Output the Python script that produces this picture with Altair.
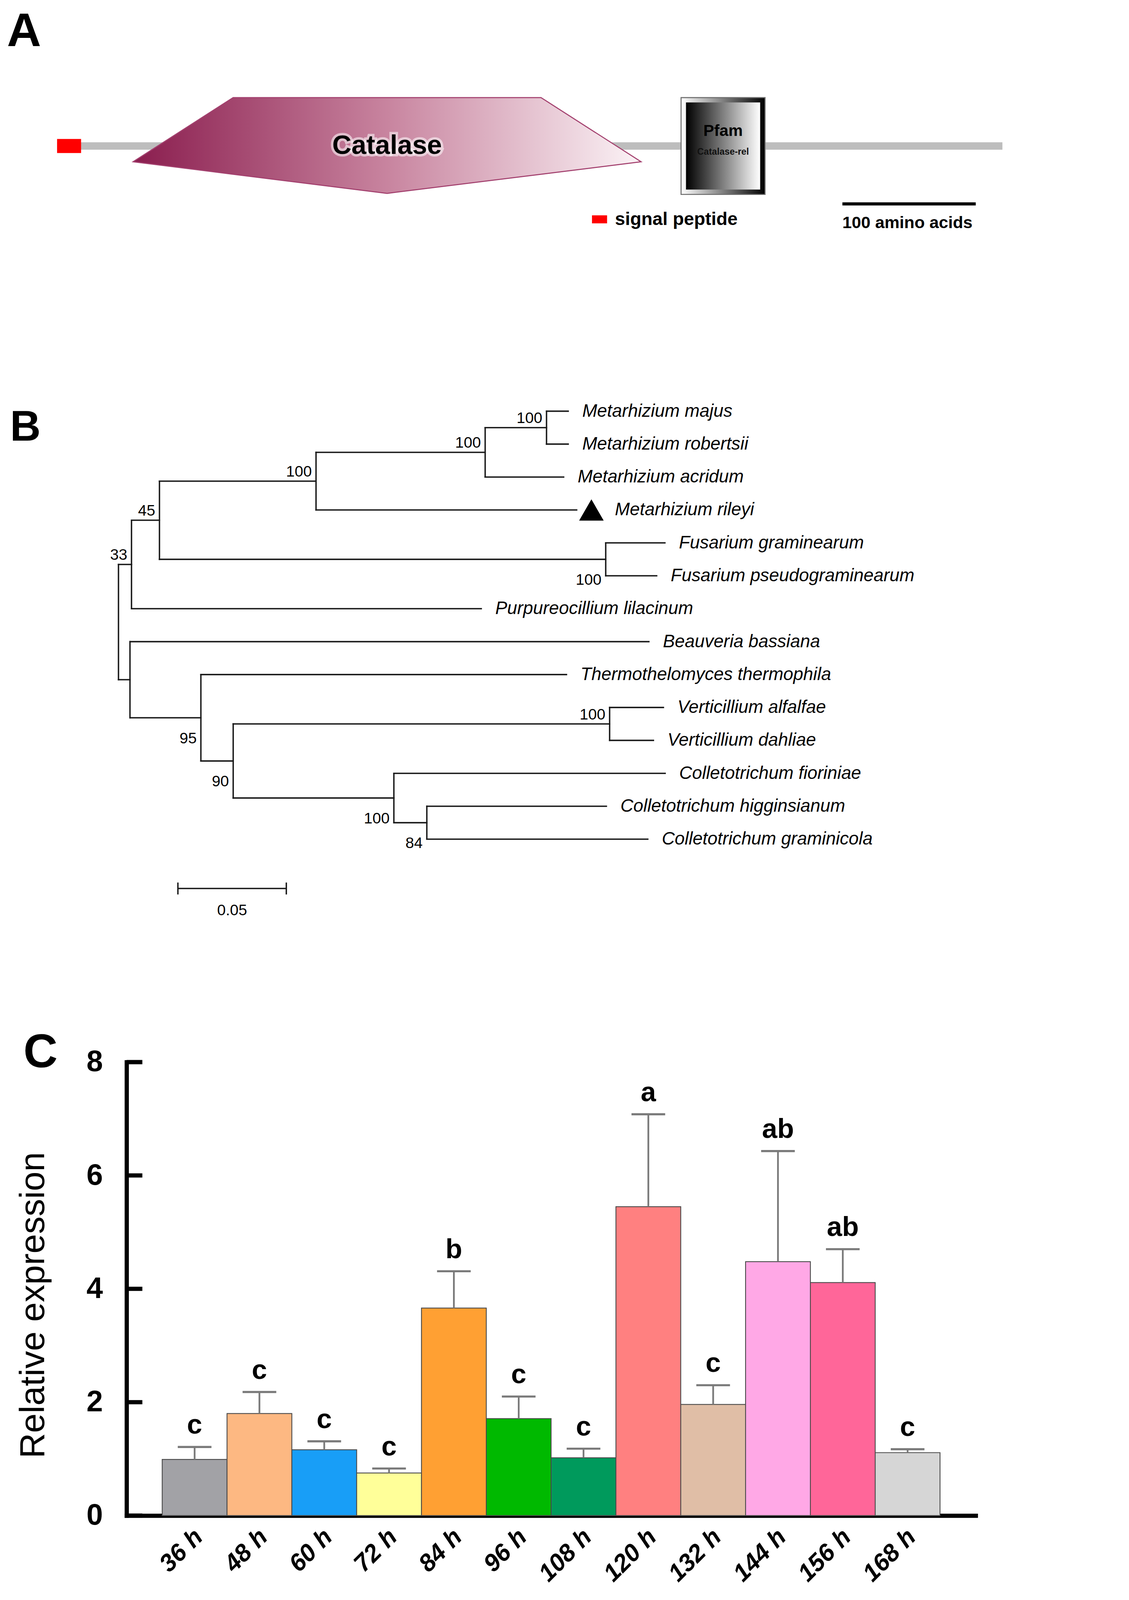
import altair as alt
import pandas as pd

# ============================ DATA ============================
# ---- Panel A: protein architecture (amino-acid coordinates) ----
protein_length = 709
signal_peptide = [0, 18]
domain_labels = ["Catalase", "Catalase-rel"]
domain_start = [57, 468]
domain_end = [438, 531]
scalebar_start_aa = 589
scalebar_len_aa = 100
legend_label = "signal peptide"

# ---- Panel B: phylogenetic tree ----
tip_names = [
    "Metarhizium majus", "Metarhizium robertsii", "Metarhizium acridum",
    "Metarhizium rileyi", "Fusarium graminearum", "Fusarium pseudograminearum",
    "Purpureocillium lilacinum", "Beauveria bassiana",
    "Thermothelomyces thermophila", "Verticillium alfalfae",
    "Verticillium dahliae", "Colletotrichum fioriniae",
    "Colletotrichum higginsianum", "Colletotrichum graminicola",
]
edge_parent = ["root", "root", "n33", "n33", "n45", "n45", "nMet4", "nMet4",
               "nMet3", "nMet3", "nMR", "nMR", "nFus", "nFus", "nLow", "nLow",
               "n95", "n95", "n90", "n90", "nVert", "nVert", "nColl", "nColl",
               "n84", "n84"]
edge_child = ["n33", "nLow", "n45", "Purpureocillium lilacinum", "nMet4", "nFus",
              "nMet3", "Metarhizium rileyi", "nMR", "Metarhizium acridum",
              "Metarhizium majus", "Metarhizium robertsii",
              "Fusarium graminearum", "Fusarium pseudograminearum",
              "Beauveria bassiana", "n95", "Thermothelomyces thermophila", "n90",
              "nVert", "nColl", "Verticillium alfalfae", "Verticillium dahliae",
              "Colletotrichum fioriniae", "n84",
              "Colletotrichum higginsianum", "Colletotrichum graminicola"]
edge_length = [0.0060, 0.0053, 0.0129, 0.1613, 0.0722, 0.2058, 0.0780, 0.1202,
               0.0283, 0.0362, 0.0100, 0.0100, 0.0273, 0.0235, 0.2393, 0.0327,
               0.1686, 0.0149, 0.1736, 0.0741, 0.0248, 0.0202, 0.1251, 0.0152,
               0.0828, 0.1019]
bootstrap_node = ["nMR", "nMet3", "nMet4", "n45", "n33", "nVert",
                  "nFus", "n95", "n90", "nColl", "n84"]
bootstrap_value = ["100", "100", "100", "45", "33", "100",
                   "100", "95", "90", "100", "84"]
bootstrap_side = ["above"] * 6 + ["below"] * 5
marked_tip = "Metarhizium rileyi"
tree_scale_len = 0.05
tree_scale_start = 0.0274
tree_scale_label = "0.05"

# ---- Panel C: relative expression ----
times = ["36 h", "48 h", "60 h", "72 h", "84 h", "96 h",
         "108 h", "120 h", "132 h", "144 h", "156 h", "168 h"]
expr_mean = [0.99, 1.80, 1.16, 0.75, 3.66, 1.71, 1.02, 5.45, 1.96, 4.48, 4.11, 1.11]
expr_err = [0.22, 0.38, 0.15, 0.08, 0.65, 0.39, 0.16, 1.63, 0.34, 1.95, 0.59, 0.06]
sig_letters = ["c", "c", "c", "c", "b", "c", "c", "a", "c", "ab", "ab", "c"]
bar_colors = ["#a2a2a6", "#fdb882", "#189ef7", "#ffff99", "#ffa033", "#00b900",
              "#009a5c", "#ff8080", "#e0bea6", "#ffa8e6", "#ff6699", "#d6d6d6"]
y_tick_values = [0, 2, 4, 6, 8]
panel_letters = ["A", "B", "C"]

# ============================ LAYOUT / STYLE ============================
# All geometry below is measured in reference-image pixels and converted to
# CSS pixels with S (the page is photographed at a device scale of about S).
S = 1.113


def px(v):
    return v / S


FONT = "Liberation Sans"
X0 = 360            # left edge of each panel's plot area (image px)
PLOT_W = 2420
TOP_A = 8 * S       # top of panel A plot area (image px)
H_A = 1000
C_TOP = 3025        # top of panel C plot area (value 8)
H_C = 1292          # value 0 at image y 4317
LETTER_SIZE = 135
C_BASE = 3040       # baseline of letter C
C_OVERHANG = 0.8 * LETTER_SIZE - (C_BASE - C_TOP)
H_B = C_TOP - TOP_A - H_A - C_OVERHANG
TOP_B = TOP_A + H_A

# panel A geometry
AA0_IMG, PX_PER_AA = 162, 3.80
LINE_Y_IMG, UNIT_PX = 416, 138.0
SP_HALF = 20 / UNIT_PX
VERTEX_Y, APEX_Y = -45 / UNIT_PX, -135 / UNIT_PX
SHOULDER_FRAC = 0.197
SCALEBAR_Y = (LINE_Y_IMG - 581) / UNIT_PX
SCALEBAR_TXT_Y = (LINE_Y_IMG - 636) / UNIT_PX
PF_INSET_X, PF_INSET_Y = 3.7, 14 / UNIT_PX

# panel B geometry
ROOT_X_IMG, PX_PER_UNIT = 337, 6180.0
ROW0_IMG, ROW_PX = 1171, 93.8
SB_ROW = (2531 - ROW0_IMG) / ROW_PX
SB_LABEL_ROW = (2594 - ROW0_IMG) / ROW_PX
SB_TICK = 17 / ROW_PX


def letter(ch, x_img, y_rel_img, size):
    return alt.Chart(pd.DataFrame({"t": [ch]})).mark_text(
        font=FONT, fontSize=px(size), fontWeight="bold", color="black",
        align="left", baseline="alphabetic").encode(
        x=alt.value(px(x_img - X0)), y=alt.value(px(y_rel_img)), text="t:N")


# ============================ PANEL A ============================
xa_dom = [(X0 - AA0_IMG) / PX_PER_AA, (X0 - AA0_IMG + PLOT_W) / PX_PER_AA]
ya_top = (LINE_Y_IMG - TOP_A) / UNIT_PX
ya_dom = [ya_top - H_A / UNIT_PX, ya_top]
sxA = alt.Scale(domain=xa_dom, nice=False, zero=False)
syA = alt.Scale(domain=ya_dom, nice=False, zero=False)


def XA(f):
    return alt.X(f, type="quantitative", scale=sxA, axis=None)


def YA(f):
    return alt.Y(f, type="quantitative", scale=syA, axis=None)


line_df = pd.DataFrame({"x": [0], "x2": [protein_length], "y": [0.0]})
sp_df = pd.DataFrame({"x": [signal_peptide[0]], "x2": [signal_peptide[1]],
                      "y": [-SP_HALF], "y2": [SP_HALF], "feature": [legend_label]})

s, e = domain_start[0], domain_end[0]
L = e - s
f = SHOULDER_FRAC
mid_bot = VERTEX_Y + (APEX_Y - VERTEX_Y) * (2 * f)
pent_df = pd.DataFrame({
    "x": [s, s + f * L, s + L / 2, e - f * L, e],
    "top": [VERTEX_Y, 1.0, 1.0, 1.0, VERTEX_Y],
    "bot": [VERTEX_Y, mid_bot, APEX_Y, mid_bot, VERTEX_Y],
})
pf_df = pd.DataFrame({"x": [domain_start[1]], "x2": [domain_end[1]],
                      "y": [-1.0], "y2": [1.0]})
pf_in_df = pd.DataFrame({"x": [domain_start[1] + PF_INSET_X],
                         "x2": [domain_end[1] - PF_INSET_X],
                         "y": [-1.0 + PF_INSET_Y], "y2": [1.0 - PF_INSET_Y]})
cat_txt = pd.DataFrame({"x": [(s + e) / 2], "y": [0.0], "t": [domain_labels[0]]})
pf_txt = pd.DataFrame({"x": [(domain_start[1] + domain_end[1]) / 2], "y": [0.0],
                       "t": [domain_labels[1]]})
sb_df = pd.DataFrame({"x": [scalebar_start_aa], "x2": [scalebar_start_aa + scalebar_len_aa],
                      "y": [SCALEBAR_Y], "yt": [SCALEBAR_TXT_Y],
                      "t": [f"{scalebar_len_aa} amino acids"]})

grad_cat = alt.LinearGradient(gradient="linear", x1=0, x2=1, y1=0, y2=0, stops=[
    alt.GradientStop(color="#8a1d4e", offset=0),
    alt.GradientStop(color="#c8849f", offset=0.5),
    alt.GradientStop(color="#fbf3f6", offset=1)])
grad_pf_out = alt.LinearGradient(gradient="linear", x1=0, x2=1, y1=0, y2=0, stops=[
    alt.GradientStop(color="#ffffff", offset=0),
    alt.GradientStop(color="#000000", offset=1)])
grad_pf_in = alt.LinearGradient(gradient="linear", x1=0, x2=1, y1=0, y2=0, stops=[
    alt.GradientStop(color="#000000", offset=0),
    alt.GradientStop(color="#ffffff", offset=1)])

a_line = alt.Chart(line_df).mark_rule(color="#bdbdbd", strokeWidth=px(21)).encode(
    x=XA("x"), x2="x2", y=YA("y"))
a_sp = alt.Chart(sp_df).mark_rect().encode(
    x=XA("x"), x2="x2", y=YA("y"), y2="y2",
    color=alt.Color("feature:N", scale=alt.Scale(domain=[legend_label], range=["#ff0000"]),
                    legend=alt.Legend(orient="none", legendX=px(1682 - X0),
                                      legendY=px(599 - TOP_A), title=None,
                                      symbolType="M-1,-0.53H1V0.53H-1Z",
                                      symbolSize=px(43) ** 2, symbolStrokeWidth=0,
                                      labelFontSize=px(52), labelFont=FONT,
                                      labelFontWeight="bold", labelColor="black",
                                      labelOffset=px(18), labelLimit=0, padding=0)))
a_pent = alt.Chart(pent_df).mark_area(fill=grad_cat, stroke="#a3406e", strokeWidth=px(3),
                                      interpolate="linear").encode(
    x=XA("x"), y=YA("top"), y2="bot")
a_pf = alt.Chart(pf_df).mark_rect(fill=grad_pf_out, stroke="#6e6e6e",
                                  strokeWidth=px(3)).encode(
    x=XA("x"), x2="x2", y=YA("y"), y2="y2")
a_pf_in = alt.Chart(pf_in_df).mark_rect(fill=grad_pf_in).encode(
    x=XA("x"), x2="x2", y=YA("y"), y2="y2")
a_cat_glow = alt.Chart(cat_txt).mark_text(font=FONT, fontSize=px(76), fontWeight="bold",
                                          stroke="white", strokeWidth=px(14),
                                          strokeOpacity=0.55, color="white").encode(
    x=XA("x"), y=YA("y"), text="t:N")
a_cat_t = alt.Chart(cat_txt).mark_text(font=FONT, fontSize=px(76), fontWeight="bold",
                                       color="black").encode(
    x=XA("x"), y=YA("y"), text="t:N")
a_pf_t1 = alt.Chart(pf_txt).mark_text(font=FONT, fontSize=px(46), fontWeight="bold",
                                      color="black", dy=px(-42), text="Pfam").encode(
    x=XA("x"), y=YA("y"))
a_pf_t2 = alt.Chart(pf_txt).mark_text(font=FONT, fontSize=px(26), fontWeight="bold",
                                      color="#111111", dy=px(17)).encode(
    x=XA("x"), y=YA("y"), text="t:N")
a_sb = alt.Chart(sb_df).mark_rule(color="black", strokeWidth=px(9)).encode(
    x=XA("x"), x2="x2", y=YA("y"))
a_sb_t = alt.Chart(sb_df).mark_text(font=FONT, fontSize=px(48), fontWeight="bold",
                                    color="black", align="left").encode(
    x=XA("x"), y=YA("yt"), text="t:N")

panelA = alt.layer(a_line, a_sp, a_pent, a_pf, a_pf_in, a_cat_glow, a_cat_t, a_pf_t1,
                   a_pf_t2, a_sb, a_sb_t,
                   letter(panel_letters[0], 19, 131 - TOP_A, LETTER_SIZE)).properties(
    width=px(PLOT_W), height=px(H_A))

# ============================ PANEL B ============================
children = {}
for p, c in zip(edge_parent, edge_child):
    children.setdefault(p, []).append(c)
depth = {"root": 0.0}
for p, c, l in zip(edge_parent, edge_child, edge_length):
    depth[c] = depth[p] + l
row = {n: float(i) for i, n in enumerate(tip_names)}


def get_row(n):
    if n not in row:
        row[n] = sum(get_row(c) for c in children[n]) / len(children[n])
    return row[n]


get_row("root")

h_df = pd.DataFrame({"x": [depth[p] for p in edge_parent],
                     "x2": [depth[c] for c in edge_child],
                     "y": [row[c] for c in edge_child]})
v_df = pd.DataFrame({"x": [depth[n] for n in children],
                     "y": [min(row[c] for c in children[n]) for n in children],
                     "y2": [max(row[c] for c in children[n]) for n in children]})
tips_df = pd.DataFrame({"name": tip_names, "x": [depth[n] for n in tip_names],
                        "y": [row[n] for n in tip_names]})
boot_df = pd.DataFrame({"v": bootstrap_value, "side": bootstrap_side,
                        "x": [depth[n] for n in bootstrap_node],
                        "y": [row[n] for n in bootstrap_node]})
sbar_df = pd.DataFrame({"x": [tree_scale_start], "x2": [tree_scale_start + tree_scale_len],
                        "y": [SB_ROW]})
sbar_ends = pd.DataFrame({"x": [tree_scale_start, tree_scale_start + tree_scale_len],
                          "y": [SB_ROW - SB_TICK] * 2, "y2": [SB_ROW + SB_TICK] * 2})
sbar_lab = pd.DataFrame({"x": [tree_scale_start + tree_scale_len / 2], "y": [SB_LABEL_ROW],
                         "t": [tree_scale_label]})

xb_dom = [(X0 - ROOT_X_IMG) / PX_PER_UNIT, (X0 - ROOT_X_IMG + PLOT_W) / PX_PER_UNIT]
yb_top = (TOP_B - ROW0_IMG) / ROW_PX
yb_dom = [yb_top, yb_top + H_B / ROW_PX]
sxB = alt.Scale(domain=xb_dom, nice=False, zero=False)
syB = alt.Scale(domain=yb_dom, nice=False, zero=False, reverse=True)


def XB(f):
    return alt.X(f, type="quantitative", scale=sxB, axis=None)


def YB(f):
    return alt.Y(f, type="quantitative", scale=syB, axis=None)


TREE_COL = "#1a1a1a"
b_h = alt.Chart(h_df).mark_rule(color=TREE_COL, strokeWidth=px(4), strokeCap="square").encode(
    x=XB("x"), x2="x2", y=YB("y"))
b_v = alt.Chart(v_df).mark_rule(color=TREE_COL, strokeWidth=px(4), strokeCap="square").encode(
    x=XB("x"), y=YB("y"), y2="y2")
b_tips = alt.Chart(tips_df).transform_filter(
    alt.datum.name != marked_tip).mark_text(
    font=FONT, fontSize=px(51), fontStyle="italic", align="left", dx=px(40),
    color="black").encode(x=XB("x"), y=YB("y"), text="name:N")
b_mark_t = alt.Chart(tips_df).transform_filter(
    alt.datum.name == marked_tip).mark_text(
    font=FONT, fontSize=px(51), fontStyle="italic", align="left", dx=px(109),
    color="black").encode(x=XB("x"), y=YB("y"), text="name:N")
b_tri = alt.Chart(tips_df).transform_filter(
    alt.datum.name == marked_tip).mark_point(
    shape="triangle-up", filled=True, size=px(70) ** 2, color="black", opacity=1,
    xOffset=px(42)).encode(x=XB("x"), y=YB("y"))
b_boot_up = alt.Chart(boot_df).transform_filter(alt.datum.side == "above").mark_text(
    font=FONT, fontSize=px(44), align="right", baseline="bottom", dx=px(-12), dy=px(-4),
    color="black").encode(x=XB("x"), y=YB("y"), text="v:N")
b_boot_dn = alt.Chart(boot_df).transform_filter(alt.datum.side == "below").mark_text(
    font=FONT, fontSize=px(44), align="right", baseline="top", dx=px(-12), dy=px(38),
    color="black").encode(x=XB("x"), y=YB("y"), text="v:N")
b_sb = alt.Chart(sbar_df).mark_rule(color=TREE_COL, strokeWidth=px(4)).encode(
    x=XB("x"), x2="x2", y=YB("y"))
b_sb_e = alt.Chart(sbar_ends).mark_rule(color=TREE_COL, strokeWidth=px(4)).encode(
    x=XB("x"), y=YB("y"), y2="y2")
b_sb_t = alt.Chart(sbar_lab).mark_text(font=FONT, fontSize=px(44), color="black").encode(
    x=XB("x"), y=YB("y"), text="t:N")

panelB = alt.layer(b_h, b_v, b_tips, b_mark_t, b_tri, b_boot_up, b_boot_dn,
                   b_sb, b_sb_e, b_sb_t,
                   letter(panel_letters[1], 28, 1255 - TOP_B, 121)).properties(
    width=px(PLOT_W), height=px(H_B))

# ============================ PANEL C ============================
c_df = pd.DataFrame({"time": times, "mean": expr_mean,
                     "upper": [m + s_ for m, s_ in zip(expr_mean, expr_err)],
                     "letter": sig_letters})
tick_df = pd.DataFrame({"tick": y_tick_values})

xC = alt.X("time:N", sort=times,
           scale=alt.Scale(domain=times, paddingInner=0, paddingOuter=0.55),
           axis=alt.Axis(title=None, labelAngle=-45, labelAlign="right",
                         labelBaseline="middle", labelFont=FONT, labelFontSize=px(70),
                         labelFontWeight="bold", labelFontStyle="italic",
                         labelColor="black", labelPadding=px(50), labelOffset=px(12),
                         ticks=False, tickSize=0, domainWidth=px(12),
                         domainColor="black", domainCap="square"))
yScaleC = alt.Scale(domain=[0, 8], nice=False, zero=True)
yC = alt.Y("mean:Q", scale=yScaleC,
           axis=alt.Axis(title="Relative expression", values=y_tick_values, format="d",
                         grid=False, ticks=False, tickSize=0, labelFont=FONT,
                         labelFontSize=px(84), labelFontWeight="bold", labelColor="black",
                         labelPadding=px(68), titleFont=FONT, titleFontSize=px(100),
                         titleFontWeight="normal", titleColor="black",
                         titlePadding=px(100), titleY=px(3717 - C_TOP),
                         domainWidth=px(12), domainColor="black", domainCap="square"))

c_bars = alt.Chart(c_df).mark_bar(stroke="#4a4a4a", strokeWidth=px(2.5), opacity=1).encode(
    x=xC, y=yC,
    color=alt.Color("time:N", scale=alt.Scale(domain=times, range=bar_colors), legend=None))
c_err = alt.Chart(c_df).mark_rule(color="#7a7a7a", strokeWidth=px(5)).encode(
    x=alt.X("time:N", sort=times), y=alt.Y("mean:Q"), y2="upper:Q")
c_cap = alt.Chart(c_df).mark_tick(color="#7a7a7a", thickness=px(6), size=px(96),
                                  opacity=1).encode(
    x=alt.X("time:N", sort=times), y=alt.Y("upper:Q"))
c_let = alt.Chart(c_df).mark_text(font=FONT, fontSize=px(78), fontWeight="bold",
                                  color="black", baseline="bottom", dy=px(-21)).encode(
    x=alt.X("time:N", sort=times), y=alt.Y("upper:Q"), text="letter:N")
c_ticks = alt.Chart(tick_df).mark_rule(color="black", strokeWidth=px(12)).encode(
    y=alt.Y("tick:Q"), x=alt.value(0), x2=alt.value(px(45)))

panelC = alt.layer(c_bars, c_err, c_cap, c_let, c_ticks,
                   letter(panel_letters[2], 66, C_BASE - C_TOP, LETTER_SIZE)).properties(
    width=px(PLOT_W), height=px(H_C))

# ============================ ASSEMBLE ============================
chart = alt.vconcat(panelA, panelB, panelC, spacing=0,
                    padding={"left": px(19) - 8, "top": 0, "right": 0,
                             "bottom": 0}).resolve_scale(
    x="independent", y="independent", color="independent").resolve_legend(
    color="independent").configure(font=FONT, background="white").configure_view(
    stroke=None, fill="white")

chart.save("out.html", embed_options={"renderer": "svg", "actions": False})
